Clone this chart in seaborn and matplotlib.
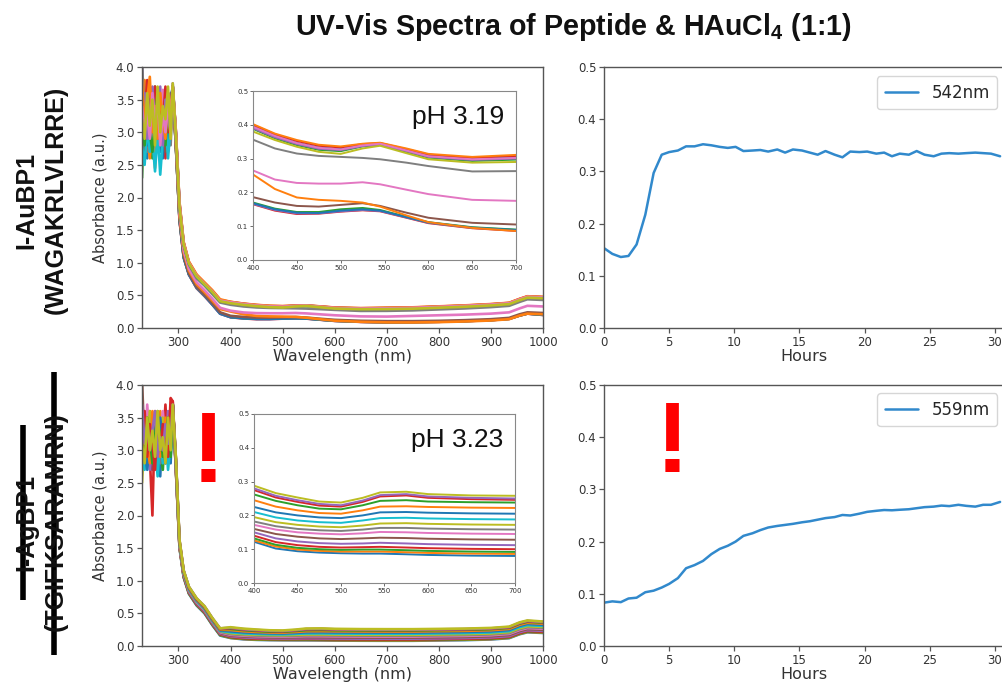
import matplotlib
matplotlib.use("Agg")
import matplotlib.pyplot as plt
import seaborn as sns
import pandas as pd
from matplotlib.lines import Line2D

# ---------------- data ----------------
uv_wl = [230, 235, 240, 245, 250, 255, 260, 265, 270, 275, 280, 285, 289]
mid_wl = [295, 302, 310, 320, 335, 350, 365, 380]
vis_wl = [400, 425, 450, 475, 500, 525, 545, 575, 600, 650, 700]
nir_wl = [750, 800, 850, 900, 935, 955, 970, 1000]

# pH 3.19 (I-AuBP1)
top_colors = ["#d62728", "#9467bd", "#2ca02c", "#1f77b4", "#8c564b", "#ff7f0e", "#e377c2", "#7f7f7f",
              "#1f77b4", "#17becf", "#d62728", "#2ca02c", "#9467bd", "#ff7f0e", "#e377c2", "#bcbd22"]
top_uv = [
    [3.1, 2.6, 3.7, 2.9, 3.4, 2.7, 3.5, 2.8, 3.3, 2.6, 3.6, 3.2, 3.7],
    [4.1, 2.9, 3.2, 3.6, 2.8, 3.4, 2.9, 3.7, 2.7, 3.3, 3.0, 3.6, 3.6],
    [2.3, 3.5, 2.8, 3.3, 2.6, 3.7, 3.0, 2.9, 3.5, 2.8, 3.2, 3.4, 3.7],
    [3.4, 3.0, 2.6, 3.5, 3.1, 2.7, 3.6, 3.0, 2.6, 3.4, 2.9, 3.3, 3.6],
    [3.6, 2.7, 3.4, 2.9, 3.6, 3.0, 2.8, 3.5, 3.1, 2.7, 3.4, 3.0, 3.7],
    [2.9, 3.8, 3.0, 2.6, 3.3, 2.45, 3.2, 3.6, 2.8, 3.4, 2.7, 3.5, 3.6],
    [3.2, 3.0, 3.5, 2.8, 3.0, 3.4, 2.7, 3.1, 3.65, 2.9, 3.5, 3.0, 3.7],
    [4.1, 3.1, 2.7, 3.4, 3.0, 3.5, 2.9, 3.3, 2.8, 3.6, 3.1, 2.8, 3.6],
    [3.0, 3.3, 2.8, 3.1, 3.5, 2.9, 3.2, 2.7, 3.4, 3.0, 2.8, 3.5, 3.7],
    [2.8, 2.5, 3.1, 2.7, 2.9, 2.4, 3.0, 2.35, 2.9, 3.2, 2.6, 3.1, 3.7],
    [3.5, 3.2, 3.8, 3.0, 3.3, 3.7, 2.9, 3.4, 3.1, 3.7, 3.0, 3.4, 3.7],
    [3.3, 2.8, 3.4, 3.0, 2.7, 3.2, 3.6, 2.9, 3.3, 2.8, 3.5, 3.1, 3.7],
    [3.0, 3.6, 2.9, 3.3, 3.7, 3.0, 3.4, 3.1, 2.8, 3.5, 3.2, 3.0, 3.75],
    [3.8, 3.1, 3.5, 3.85, 3.0, 3.4, 2.9, 3.6, 3.2, 2.9, 3.6, 3.3, 3.7],
    [3.4, 3.0, 3.3, 2.9, 3.6, 3.1, 3.5, 2.8, 3.3, 3.0, 3.4, 3.2, 3.7],
    [3.2, 2.9, 3.6, 3.1, 3.5, 2.8, 3.7, 3.0, 3.4, 3.2, 3.7, 2.9, 3.75],
]
top_mid = [
    [2.80, 1.65, 1.08, 0.82, 0.61, 0.49, 0.36, 0.22],
    [2.82, 1.66, 1.09, 0.82, 0.61, 0.49, 0.36, 0.22],
    [2.78, 1.67, 1.09, 0.83, 0.62, 0.50, 0.37, 0.23],
    [2.81, 1.66, 1.08, 0.82, 0.62, 0.50, 0.36, 0.22],
    [2.80, 1.68, 1.11, 0.84, 0.63, 0.51, 0.38, 0.24],
    [2.85, 1.73, 1.16, 0.88, 0.67, 0.55, 0.42, 0.29],
    [2.90, 1.78, 1.19, 0.91, 0.70, 0.58, 0.45, 0.31],
    [2.95, 1.84, 1.26, 0.97, 0.76, 0.65, 0.52, 0.39],
    [3.00, 1.90, 1.30, 1.00, 0.80, 0.68, 0.56, 0.42],
    [2.98, 1.88, 1.29, 0.99, 0.79, 0.67, 0.55, 0.42],
    [3.02, 1.92, 1.31, 1.01, 0.81, 0.69, 0.57, 0.43],
    [2.97, 1.87, 1.28, 0.99, 0.79, 0.67, 0.55, 0.41],
    [2.99, 1.89, 1.29, 1.00, 0.80, 0.68, 0.56, 0.42],
    [3.03, 1.93, 1.32, 1.02, 0.82, 0.70, 0.58, 0.44],
    [3.00, 1.90, 1.30, 1.00, 0.80, 0.68, 0.56, 0.42],
    [2.96, 1.86, 1.28, 0.99, 0.79, 0.67, 0.55, 0.41],
]
top_vis = [
    [0.165, 0.146, 0.136, 0.137, 0.143, 0.147, 0.144, 0.125, 0.109, 0.094, 0.086],
    [0.166, 0.148, 0.138, 0.138, 0.144, 0.148, 0.145, 0.126, 0.110, 0.095, 0.088],
    [0.170, 0.152, 0.142, 0.142, 0.150, 0.154, 0.148, 0.128, 0.112, 0.097, 0.090],
    [0.168, 0.150, 0.140, 0.139, 0.146, 0.150, 0.146, 0.127, 0.111, 0.096, 0.089],
    [0.186, 0.170, 0.160, 0.158, 0.163, 0.168, 0.160, 0.140, 0.125, 0.110, 0.105],
    [0.253, 0.210, 0.185, 0.178, 0.175, 0.170, 0.158, 0.132, 0.112, 0.095, 0.086],
    [0.265, 0.238, 0.228, 0.226, 0.226, 0.230, 0.224, 0.208, 0.195, 0.178, 0.175],
    [0.356, 0.330, 0.315, 0.308, 0.305, 0.302, 0.298, 0.288, 0.278, 0.262, 0.263],
    [0.395, 0.368, 0.347, 0.333, 0.328, 0.340, 0.343, 0.325, 0.309, 0.299, 0.304],
    [0.392, 0.365, 0.344, 0.330, 0.326, 0.338, 0.342, 0.323, 0.306, 0.297, 0.301],
    [0.400, 0.372, 0.352, 0.338, 0.333, 0.343, 0.346, 0.328, 0.312, 0.302, 0.308],
    [0.388, 0.360, 0.340, 0.326, 0.322, 0.336, 0.340, 0.320, 0.303, 0.293, 0.297],
    [0.390, 0.363, 0.343, 0.329, 0.325, 0.337, 0.341, 0.322, 0.305, 0.296, 0.300],
    [0.402, 0.374, 0.355, 0.341, 0.336, 0.344, 0.347, 0.330, 0.314, 0.305, 0.311],
    [0.394, 0.367, 0.346, 0.332, 0.327, 0.339, 0.344, 0.324, 0.307, 0.298, 0.302],
    [0.380, 0.355, 0.335, 0.320, 0.314, 0.330, 0.338, 0.316, 0.298, 0.288, 0.290],
]
top_nir = [
    [0.090, 0.095, 0.105, 0.120, 0.140, 0.190, 0.220, 0.200],
    [0.091, 0.096, 0.106, 0.121, 0.141, 0.191, 0.221, 0.201],
    [0.092, 0.097, 0.107, 0.122, 0.142, 0.193, 0.223, 0.203],
    [0.091, 0.096, 0.106, 0.121, 0.141, 0.192, 0.222, 0.202],
    [0.105, 0.110, 0.120, 0.135, 0.155, 0.210, 0.240, 0.230],
    [0.085, 0.090, 0.100, 0.115, 0.135, 0.190, 0.220, 0.210],
    [0.185, 0.195, 0.205, 0.220, 0.240, 0.300, 0.340, 0.330],
    [0.270, 0.285, 0.300, 0.320, 0.340, 0.400, 0.440, 0.430],
    [0.310, 0.325, 0.340, 0.360, 0.380, 0.440, 0.480, 0.470],
    [0.307, 0.322, 0.337, 0.357, 0.377, 0.437, 0.477, 0.467],
    [0.314, 0.329, 0.344, 0.364, 0.384, 0.444, 0.484, 0.474],
    [0.303, 0.318, 0.333, 0.353, 0.373, 0.433, 0.473, 0.463],
    [0.306, 0.321, 0.336, 0.356, 0.376, 0.436, 0.476, 0.466],
    [0.317, 0.332, 0.347, 0.367, 0.387, 0.447, 0.487, 0.477],
    [0.309, 0.324, 0.339, 0.359, 0.379, 0.439, 0.479, 0.469],
    [0.296, 0.311, 0.326, 0.346, 0.366, 0.426, 0.466, 0.456],
]

# pH 3.23 (I-AgBP1)
bot_colors = ["#1f77b4", "#ff7f0e", "#2ca02c", "#d62728", "#9467bd", "#8c564b", "#e377c2", "#7f7f7f",
              "#bcbd22", "#17becf", "#1f77b4", "#ff7f0e", "#2ca02c", "#d62728", "#9467bd", "#bcbd22"]
bot_uv = [
    [3.0, 3.5, 2.8, 3.3, 2.7, 3.4, 3.0, 2.6, 3.5, 2.9, 3.3, 2.8, 3.7],
    [3.3, 2.9, 3.6, 3.0, 3.4, 2.8, 3.2, 3.6, 2.9, 3.3, 3.0, 3.5, 3.7],
    [2.7, 3.2, 3.0, 3.5, 2.9, 3.1, 3.6, 3.0, 2.7, 3.4, 3.1, 2.9, 3.7],
    [3.5, 3.1, 3.4, 2.9, 2.0, 3.6, 2.8, 3.3, 3.0, 3.7, 2.9, 3.4, 3.75],
    [2.8, 3.6, 3.1, 2.7, 3.3, 3.0, 3.5, 2.9, 3.4, 2.8, 3.6, 3.0, 3.7],
    [4.1, 3.0, 3.3, 3.6, 2.9, 3.2, 2.7, 3.4, 3.1, 2.9, 3.3, 3.6, 3.7],
    [3.2, 2.8, 3.7, 3.1, 3.5, 2.9, 3.3, 3.0, 3.6, 3.1, 2.8, 3.7, 3.7],
    [3.6, 3.2, 2.9, 3.4, 3.0, 3.5, 3.1, 2.8, 3.3, 3.0, 3.4, 3.1, 3.7],
    [2.5, 3.3, 3.0, 3.6, 3.2, 2.8, 3.4, 3.1, 3.5, 2.9, 3.2, 3.5, 3.7],
    [3.1, 2.7, 3.3, 2.9, 3.5, 3.1, 2.6, 3.2, 2.8, 3.3, 2.7, 3.1, 3.7],
    [3.4, 3.0, 2.7, 3.2, 2.9, 3.3, 3.0, 3.5, 3.1, 2.8, 3.2, 3.0, 3.7],
    [2.9, 3.4, 3.1, 2.8, 3.6, 3.0, 3.4, 2.9, 3.2, 3.5, 3.0, 3.3, 3.7],
    [3.3, 2.9, 3.5, 3.2, 2.8, 3.4, 3.1, 3.3, 2.9, 3.2, 3.5, 2.9, 3.7],
    [3.0, 3.6, 2.9, 3.4, 3.1, 2.7, 3.5, 3.0, 3.4, 3.1, 2.9, 3.8, 3.75],
    [3.7, 3.1, 3.4, 3.0, 3.3, 3.6, 2.9, 3.2, 3.0, 3.4, 3.1, 3.2, 3.7],
    [3.1, 2.8, 3.5, 3.0, 3.3, 2.9, 3.6, 3.0, 3.2, 2.8, 3.5, 3.0, 3.7],
]
bot_mid = [
    [2.70, 1.50, 1.05, 0.80, 0.62, 0.50, 0.32, 0.16],
    [2.71, 1.51, 1.06, 0.81, 0.63, 0.51, 0.33, 0.17],
    [2.72, 1.52, 1.06, 0.81, 0.63, 0.51, 0.33, 0.17],
    [2.73, 1.52, 1.07, 0.82, 0.64, 0.52, 0.34, 0.18],
    [2.74, 1.53, 1.08, 0.83, 0.65, 0.53, 0.35, 0.19],
    [2.76, 1.54, 1.09, 0.84, 0.66, 0.54, 0.36, 0.20],
    [2.78, 1.55, 1.10, 0.85, 0.67, 0.55, 0.37, 0.21],
    [2.80, 1.56, 1.11, 0.86, 0.68, 0.56, 0.38, 0.22],
    [2.82, 1.57, 1.12, 0.87, 0.69, 0.57, 0.39, 0.23],
    [2.83, 1.58, 1.12, 0.87, 0.69, 0.57, 0.39, 0.23],
    [2.85, 1.59, 1.13, 0.88, 0.70, 0.58, 0.40, 0.24],
    [2.86, 1.60, 1.14, 0.89, 0.71, 0.59, 0.41, 0.25],
    [2.87, 1.61, 1.15, 0.90, 0.72, 0.60, 0.42, 0.26],
    [2.88, 1.62, 1.15, 0.90, 0.72, 0.60, 0.42, 0.26],
    [2.89, 1.62, 1.16, 0.91, 0.73, 0.61, 0.43, 0.27],
    [2.90, 1.63, 1.16, 0.91, 0.73, 0.61, 0.43, 0.27],
]
bot_vis = [
    [0.122, 0.102, 0.094, 0.090, 0.088, 0.087, 0.087, 0.085, 0.083, 0.081, 0.080],
    [0.126, 0.108, 0.099, 0.095, 0.093, 0.093, 0.093, 0.091, 0.089, 0.087, 0.086],
    [0.132, 0.113, 0.104, 0.100, 0.098, 0.099, 0.099, 0.097, 0.095, 0.093, 0.092],
    [0.140, 0.121, 0.112, 0.107, 0.105, 0.106, 0.107, 0.105, 0.103, 0.101, 0.100],
    [0.150, 0.132, 0.123, 0.118, 0.116, 0.117, 0.119, 0.117, 0.115, 0.113, 0.112],
    [0.160, 0.145, 0.137, 0.132, 0.130, 0.132, 0.134, 0.133, 0.131, 0.129, 0.128],
    [0.172, 0.158, 0.150, 0.146, 0.144, 0.147, 0.151, 0.150, 0.148, 0.146, 0.145],
    [0.182, 0.168, 0.160, 0.156, 0.154, 0.158, 0.163, 0.163, 0.161, 0.159, 0.158],
    [0.195, 0.180, 0.172, 0.167, 0.165, 0.170, 0.176, 0.177, 0.175, 0.173, 0.172],
    [0.210, 0.194, 0.185, 0.180, 0.178, 0.185, 0.192, 0.193, 0.191, 0.189, 0.188],
    [0.225, 0.209, 0.200, 0.194, 0.192, 0.200, 0.209, 0.210, 0.208, 0.206, 0.205],
    [0.245, 0.226, 0.215, 0.207, 0.205, 0.215, 0.226, 0.227, 0.225, 0.223, 0.222],
    [0.262, 0.243, 0.230, 0.220, 0.218, 0.230, 0.243, 0.245, 0.241, 0.239, 0.238],
    [0.275, 0.253, 0.240, 0.229, 0.226, 0.240, 0.256, 0.259, 0.252, 0.248, 0.246],
    [0.280, 0.258, 0.245, 0.234, 0.230, 0.244, 0.260, 0.263, 0.256, 0.252, 0.250],
    [0.288, 0.266, 0.253, 0.241, 0.238, 0.252, 0.268, 0.270, 0.263, 0.259, 0.258],
]
bot_nir = [
    [0.080, 0.085, 0.090, 0.100, 0.120, 0.180, 0.210, 0.200],
    [0.086, 0.091, 0.096, 0.106, 0.126, 0.186, 0.216, 0.206],
    [0.092, 0.097, 0.102, 0.112, 0.132, 0.192, 0.222, 0.212],
    [0.100, 0.105, 0.110, 0.120, 0.140, 0.200, 0.230, 0.220],
    [0.112, 0.117, 0.122, 0.132, 0.152, 0.212, 0.242, 0.232],
    [0.128, 0.133, 0.138, 0.148, 0.168, 0.228, 0.258, 0.248],
    [0.145, 0.150, 0.155, 0.165, 0.185, 0.245, 0.275, 0.265],
    [0.158, 0.163, 0.168, 0.178, 0.198, 0.258, 0.288, 0.278],
    [0.172, 0.177, 0.182, 0.192, 0.212, 0.272, 0.302, 0.292],
    [0.188, 0.193, 0.198, 0.208, 0.228, 0.290, 0.320, 0.308],
    [0.205, 0.210, 0.215, 0.225, 0.245, 0.308, 0.338, 0.325],
    [0.222, 0.227, 0.232, 0.242, 0.262, 0.325, 0.355, 0.342],
    [0.238, 0.243, 0.248, 0.258, 0.278, 0.342, 0.372, 0.358],
    [0.246, 0.251, 0.256, 0.266, 0.286, 0.350, 0.380, 0.365],
    [0.250, 0.255, 0.260, 0.270, 0.290, 0.355, 0.385, 0.368],
    [0.258, 0.262, 0.267, 0.277, 0.297, 0.362, 0.392, 0.375],
]

hours = [0, 0.64, 1.29, 1.88, 2.5, 3.17, 3.81, 4.43, 5.0, 5.67,
         6.3, 6.95, 7.6, 8.24, 8.88, 9.5, 10.1, 10.7, 11.4, 12.0,
         12.6, 13.3, 13.9, 14.5, 15.2, 15.8, 16.4, 17.0, 17.7, 18.3,
         18.9, 19.6, 20.2, 20.9, 21.5, 22.1, 22.7, 23.4, 24.0, 24.6,
         25.3, 25.9, 26.5, 27.2, 27.8, 28.5, 29.1, 29.7, 30.4]
abs_542 = [0.153, 0.142, 0.136, 0.138, 0.160, 0.217, 0.297, 0.332, 0.337, 0.340,
           0.348, 0.348, 0.352, 0.350, 0.347, 0.345, 0.347, 0.339, 0.340, 0.341,
           0.338, 0.342, 0.336, 0.342, 0.340, 0.336, 0.332, 0.339, 0.332, 0.327,
           0.338, 0.337, 0.338, 0.334, 0.336, 0.329, 0.334, 0.332, 0.339, 0.332,
           0.329, 0.334, 0.335, 0.334, 0.335, 0.336, 0.335, 0.334, 0.329]
abs_559 = [0.083, 0.0855, 0.084, 0.091, 0.0925, 0.103, 0.106, 0.112, 0.119, 0.130,
           0.149, 0.155, 0.163, 0.176, 0.186, 0.192, 0.200, 0.211, 0.216, 0.222,
           0.227, 0.230, 0.232, 0.234, 0.237, 0.239, 0.242, 0.245, 0.247, 0.251,
           0.250, 0.2535, 0.257, 0.259, 0.2605, 0.260, 0.261, 0.262, 0.264, 0.266,
           0.267, 0.269, 0.268, 0.2705, 0.2685, 0.267, 0.2705, 0.2705, 0.276]

wl_ticks = [300, 400, 500, 600, 700, 800, 900, 1000]
inset_ticks = [400, 450, 500, 550, 600, 650, 700]
hour_ticks = [0, 5, 10, 15, 20, 25, 30]

# ---------------- style ----------------
sns.set_theme(style="ticks")
plt.rcParams.update({
    "font.family": ["DejaVu Sans"],
    "axes.edgecolor": "#555555",
    "axes.linewidth": 1.0,
    "xtick.color": "#555555",
    "ytick.color": "#555555",
    "xtick.labelcolor": "#333333",
    "ytick.labelcolor": "#333333",
    "axes.labelcolor": "#333333",
    "xtick.labelsize": 8.5,
    "ytick.labelsize": 8.5,
    "mathtext.fontset": "custom",
    "mathtext.rm": "Liberation Sans",
    "mathtext.bf": "Liberation Sans:bold",
})
ARIAL = ["Liberation Sans", "DejaVu Sans"]

W, H = 1002, 689
fig = plt.figure(figsize=(W / 100, H / 100), dpi=100)


def px_axes(x0, y0, x1, y1):
    return fig.add_axes([x0 / W, 1 - y1 / H, (x1 - x0) / W, (y1 - y0) / H])


def build(uv, mid, vis, nir):
    frames = []
    for i in range(len(uv)):
        frames.append(pd.DataFrame({
            "wl": uv_wl + mid_wl + vis_wl + nir_wl,
            "A": uv[i] + mid[i] + vis[i] + nir[i],
            "curve": i,
        }))
    return pd.concat(frames, ignore_index=True)


def spectra_panel(box, inset_box, df, colors, ph_text):
    ax = px_axes(*box)
    order = list(range(len(colors)))
    sns.lineplot(data=df, x="wl", y="A", hue="curve", hue_order=order, palette=colors,
                 estimator=None, sort=False, legend=False, lw=1.9, ax=ax)
    ax.set_xlim(230, 1000)
    ax.set_ylim(0, 4.0)
    ax.set_xticks(wl_ticks)
    ax.set_yticks([0, 0.5, 1.0, 1.5, 2.0, 2.5, 3.0, 3.5, 4.0])
    ax.set_yticklabels(["0.0", "0.5", "1.0", "1.5", "2.0", "2.5", "3.0", "3.5", "4.0"])
    ax.set_xlabel("Wavelength (nm)", fontsize=11.5, labelpad=0)
    ax.set_ylabel("Absorbance (a.u.)", fontsize=10.5, labelpad=6)
    ax.tick_params(length=3.5, width=0.9, pad=2)

    ins = px_axes(*inset_box)
    sub = df[(df["wl"] >= 400) & (df["wl"] <= 700)]
    sns.lineplot(data=sub, x="wl", y="A", hue="curve", hue_order=order, palette=colors,
                 estimator=None, sort=False, legend=False, lw=1.4, ax=ins)
    ins.set_xlim(400, 700)
    ins.set_ylim(0, 0.5)
    ins.set_xticks(inset_ticks)
    ins.set_yticks([0, 0.1, 0.2, 0.3, 0.4, 0.5])
    ins.set_yticklabels(["0.0", "0.1", "0.2", "0.3", "0.4", "0.5"])
    ins.tick_params(labelsize=5, length=2, width=0.6, pad=1.5)
    for s in ins.spines.values():
        s.set_linewidth(0.8)
        s.set_color("#888888")
    ins.set_xlabel("")
    ins.set_ylabel("")
    ins.text(0.955, 0.92, ph_text, transform=ins.transAxes, ha="right", va="top",
             fontsize=19, family=ARIAL, color="#111111")
    return ax


def kinetics_panel(box, hrs, vals, label, anchor_y):
    ax = px_axes(*box)
    sns.lineplot(x=hrs, y=vals, color="#3189cc", lw=1.8, label=label, ax=ax)
    ax.set_xlim(0, 30.7)
    ax.set_ylim(0, 0.5)
    ax.set_xticks(hour_ticks)
    ax.set_yticks([0, 0.1, 0.2, 0.3, 0.4, 0.5])
    ax.set_yticklabels(["0.0", "0.1", "0.2", "0.3", "0.4", "0.5"])
    ax.set_xlabel("Hours", fontsize=11.5, labelpad=0)
    ax.set_ylabel("")
    ax.tick_params(length=3.5, width=0.9, pad=2)
    ax.legend(loc="upper right", fontsize=12, frameon=True, fancybox=True,
              handlelength=2.0, borderpad=0.45, borderaxespad=0,
              bbox_to_anchor=(0.983, anchor_y))
    return ax


df_top = build(top_uv, top_mid, top_vis, top_nir)
df_bot = build(bot_uv, bot_mid, bot_vis, bot_nir)

spectra_panel((142, 67, 543, 328), (253, 91, 516, 260), df_top, top_colors, "pH 3.19")
spectra_panel((142, 385, 543, 646), (254, 414, 515, 583), df_bot, bot_colors, "pH 3.23")
kinetics_panel((604, 67, 1004, 328), hours, abs_542, "542nm", 0.964)
kinetics_panel((604, 385, 1004, 646), hours, abs_559, "559nm", 0.968)

# ---------------- annotations ----------------
fig.text(573 / W, 1 - 27 / H, r"UV-Vis Spectra of Peptide & HAuCl$_\mathbf{4}$ (1:1)",
         ha="center", va="center", fontsize=20.6, fontweight="bold", family=ARIAL, color="#111111")

fig.text(41 / W, 1 - 200 / H, "I-AuBP1\n(WAGAKRLVLRRE)", rotation=90, ha="center", va="center",
         multialignment="center", fontsize=18, fontweight="bold", family=ARIAL, color="#111111",
         linespacing=1.25)
fig.text(41 / W, 1 - 522 / H, "I-AgBP1\n(TGIFKSARAMRN)", rotation=90, ha="center", va="center",
         multialignment="center", fontsize=18, fontweight="bold", family=ARIAL, color="#111111",
         linespacing=1.25)
fig.add_artist(Line2D([23 / W, 23 / W], [1 - 425 / H, 1 - 600 / H], transform=fig.transFigure,
                      color="black", lw=4, solid_capstyle="butt"))
fig.add_artist(Line2D([54 / W, 54 / W], [1 - 372 / H, 1 - 655 / H], transform=fig.transFigure,
                      color="black", lw=4, solid_capstyle="butt"))

fig.text(208 / W, 1 - 456 / H, "!", ha="center", va="center", fontsize=72, fontweight="bold",
         family=ARIAL, color="#ff0000")
fig.text(672 / W, 1 - 446 / H, "!", ha="center", va="center", fontsize=72, fontweight="bold",
         family=ARIAL, color="#ff0000")

fig.savefig("out.png", dpi=100)
